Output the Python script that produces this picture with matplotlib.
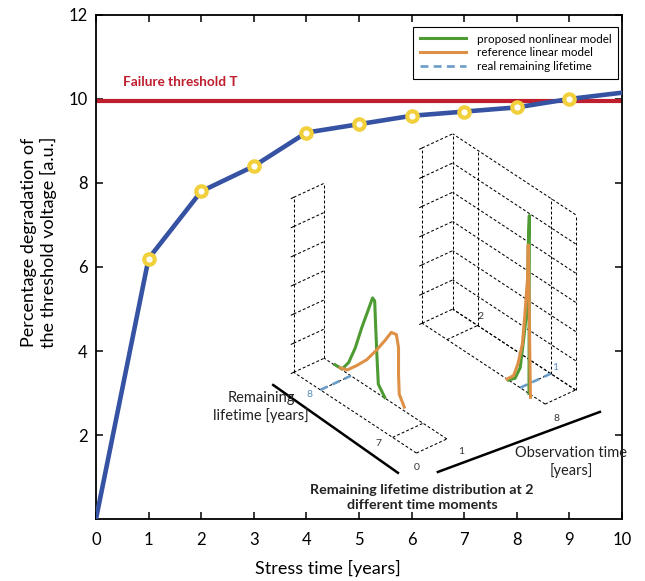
import numpy as np
import matplotlib.pyplot as plt
from mpl_toolkits.mplot3d import proj3d

plt.rcParams['font.family'] = ['Lato', 'DejaVu Sans']

# degradation of the threshold voltage vs stress time
stress_years = list(range(0, 11))
degradation = [0.0, 6.2, 7.8, 8.4, 9.2, 9.4, 9.6, 9.7, 9.8, 10.0, 10.15]
threshold = 9.95

# remaining lifetime distributions at observation time 1 (left box)
obs_left = 1
rl_green_left = [8.22, 8.12, 8.03, 7.94, 7.85, 7.75, 7.70, 7.67, 7.66, 7.64, 7.62, 7.53]
pdf_green_left = [0.02, 0.04, 0.41, 1.05, 1.89, 2.73, 3.16, 3.10, 2.45, 1.31, 0.33, 0.02]
rl_orange_left = [8.15, 8.05, 7.92, 7.78, 7.64, 7.53, 7.44, 7.37, 7.34, 7.34, 7.33, 7.26]
pdf_orange_left = [0.03, 0.12, 0.48, 0.91, 1.48, 1.97, 2.40, 2.44, 2.04, 1.12, 0.46, 0.13]
real_left = 8

# remaining lifetime distributions at observation time 8 (right box)
obs_right = 8
rl_green_right = [1.16, 1.07, 1.00, 0.96, 0.92, 0.90, 0.89, 0.875, 0.88]
pdf_green_right = [0.0, 0.21, 0.69, 1.57, 2.52, 3.70, 5.07, 6.10, 0.0]
rl_orange_right = [1.18, 1.09, 1.03, 0.97, 0.94, 0.90, 0.89, 0.86]
pdf_orange_right = [0.0, 0.27, 0.78, 1.55, 2.48, 3.90, 5.07, -0.1]
real_right = 1

z_levels = list(range(0, 7))

GREEN = '#4d9b32'
ORANGE = '#de9146'
LBLUE = '#6a9cc8'

fig = plt.figure(figsize=(6.45, 5.81), dpi=100)
ax = fig.add_axes([0.1488, 0.1067, 0.8155, 0.8675])

ax.axhline(threshold, color='#be1e2d', lw=3, zorder=2)
ax.plot(stress_years, degradation, color='#3652a3', lw=3.3, zorder=3,
        marker='o', markevery=slice(1, 10), ms=7.5, mew=3,
        mfc='white', mec='#f1d03c')
ax.text(1.6, 10.4, 'Failure threshold T', color='#be1e2d', fontsize=9.8,
        fontweight='bold', ha='center', va='center')

ax.set_xlim(0, 10)
ax.set_ylim(0, 12)
ax.set_xticks(range(0, 11))
ax.set_yticks(range(2, 13, 2))
ax.tick_params(direction='in', top=True, right=True, length=5, width=1.1,
               labelsize=12)
ax.tick_params(axis='x', pad=9)
ax.tick_params(axis='y', pad=6)
for sp in ax.spines.values():
    sp.set_linewidth(1.3)
ax.set_xlabel('Stress time [years]', fontsize=13)
ax.set_ylabel('Percentage degradation of\nthe threshold voltage [a.u.]', fontsize=13)
ax.xaxis.set_label_coords(0.44, -0.081)
ax.yaxis.set_label_coords(-0.075, 0.548)

# axis strokes and captions of the inset sketch
ax.plot([3.37, 5.74], [3.19, 1.10], color='black', lw=1.8)
ax.plot([6.50, 9.58], [1.12, 2.55], color='black', lw=1.8)
ax.text(3.14, 2.67, 'Remaining\nlifetime [years]', fontsize=10.5, ha='center',
        va='center', linespacing=1.2, color='#222222')
ax.text(9.03, 1.36, 'Observation time\n[years]', fontsize=10.5, ha='center',
        va='center', linespacing=1.2, color='#222222')
ax.text(6.2, 0.51, 'Remaining lifetime distribution at 2\ndifferent time moments',
        fontsize=10.3, fontweight='bold', ha='center', va='center',
        linespacing=1.25, color='#222222')


def make_box(rect, obs_lim, rl_lim, rl_ticks, side_wall):
    ax3 = fig.add_axes(rect, projection='3d', computed_zorder=False)
    ax3.set_proj_type('ortho')
    ax3.view_init(elev=33.5, azim=-130)
    ax3.set_xlim(obs_lim)
    ax3.set_ylim(rl_lim)
    ax3.set_zlim(0, 6)
    ax3.set_xticks([])
    ax3.set_yticks([])
    ax3.set_zticks([])
    ax3.set_box_aspect((40, 192, 211), zoom=2.0)
    ax3.set_axis_off()
    ax3.set_facecolor('none')
    for t in (ax3.title, ax3._left_title, ax3._right_title):
        t.set_visible(False)
    o0, o1 = obs_lim
    r0, r1 = rl_lim
    kw = dict(color='black', lw=0.75, ls=(0, (2.8, 2)), zorder=1, clip_on=False)
    for z in z_levels:
        ax3.plot([o0, o1], [r1, r1], [z, z], **kw)
        ax3.plot([o0 - 0.08, o0], [r1, r1], [z, z], color='black', lw=0.75,
                 zorder=1, clip_on=False)
    for o in (o0, o1):
        ax3.plot([o, o], [r1, r1], [0, 6], **kw)
        ax3.plot([o, o], [r0, r1], [0, 0], **kw)
    for r in [r0] + rl_ticks:
        ax3.plot([o0, o1], [r, r], [0, 0], **kw)
    if side_wall:
        for z in z_levels:
            ax3.plot([o1, o1], [r0, r1], [z, z], **kw)
        for r in [r0] + rl_ticks:
            ax3.plot([o1, o1], [r, r], [0, 6], **kw)
    return ax3


def fit_axes(ax3, pts3d, targets_px):
    fig.canvas.draw()
    W, H = fig.canvas.get_width_height()
    p = np.array(pts3d, float).T
    xs, ys, _ = proj3d.proj_transform(p[0], p[1], p[2], ax3.M)
    disp = ax3.transData.transform(np.column_stack([xs, ys]))
    frac = ax3.transAxes.inverted().transform(disp)
    tgt = np.array([[x, H - y] for x, y in targets_px], float)
    n = len(frac)
    A = np.zeros((2 * n, 3))
    b = np.zeros(2 * n)
    A[0::2, 0] = 1
    A[0::2, 2] = frac[:, 0]
    b[0::2] = tgt[:, 0]
    A[1::2, 1] = 1
    A[1::2, 2] = frac[:, 1]
    b[1::2] = tgt[:, 1]
    ox, oy, s = np.linalg.lstsq(A, b, rcond=None)[0]
    ax3.set_position([ox / W, oy / H, s / W, s / H])


# left box: observation time 1
axl = make_box([0.3, 0.2, 0.4, 0.4 * 645 / 581], (0, 1), (6.67, 8.37), [7, 8], False)
blue_l, = axl.plot([0, 1], [real_left, real_left], [0, 0], color=LBLUE, lw=1.9,
                   ls=(0, (3, 2)), zorder=2, clip_on=False,
                   label='real remaining lifetime')
green_l, = axl.plot([obs_left] * len(rl_green_left), rl_green_left, pdf_green_left,
                    color=GREEN, lw=2.2, zorder=3, clip_on=False,
                    label='proposed nonlinear model')
orange_l, = axl.plot([obs_left] * len(rl_orange_left), rl_orange_left, pdf_orange_left,
                     color=ORANGE, lw=2.2, zorder=4, clip_on=False,
                     label='reference linear model')
tk = dict(fontsize=7.5, ha='center', va='center', color='#333333', clip_on=False)
axl.text(0, 6.67, -0.5, '0', **tk)
axl.text(1, 6.47, -0.12, '1', **tk)
axl.text(-0.45, 7, 0, '7', **tk)
axl.text(-0.35, 8, 0, '8', **{**tk, 'color': '#5b8fc4'})

# right box: observation time 8
axr = make_box([0.5, 0.4, 0.4, 0.4 * 645 / 581], (8, 9), (0.66, 2.34), [1, 2], True)
axr.plot([8, 9], [real_right, real_right], [0, 0], color=LBLUE, lw=1.9,
         ls=(0, (3, 2)), zorder=2, clip_on=False)
axr.plot([obs_right] * len(rl_green_right), rl_green_right, pdf_green_right,
         color=GREEN, lw=2.2, zorder=3, clip_on=False)
axr.plot([obs_right] * len(rl_orange_right), rl_orange_right, pdf_orange_right,
         color=ORANGE, lw=2.2, zorder=4, clip_on=False)
axr.text(9, 2, 0.3, '2', **{**tk, 'ha': 'left'})
axr.text(9.15, 1, 0.15, '1', **{**tk, 'color': '#5b8fc4'})
axr.text(8, 0.51, -0.23, '8', **tk)

for _ in range(2):
    fit_axes(axl, [(0, 8.37, 0), (0, 8.37, 6), (0, 6.67, 0), (1, 8.37, 6)],
             [(293, 372), (293, 196), (417, 453), (325, 185)])
    fit_axes(axr, [(8, 2.34, 0), (8, 2.34, 6), (8, 0.66, 0), (9, 0.66, 6)],
             [(422, 323), (422, 148), (545, 404), (576, 215)])

ax.legend(handles=[green_l, orange_l, blue_l], loc='upper right',
          bbox_to_anchor=(0.9924, 0.976), borderaxespad=0, fontsize=8.4,
          frameon=True, fancybox=False, edgecolor='black', framealpha=1,
          handlelength=4.0, handletextpad=0.9, labelspacing=0.25,
          borderpad=0.55)
ax.get_legend().get_frame().set_linewidth(0.8)

fig.savefig('out.png', dpi=100)
